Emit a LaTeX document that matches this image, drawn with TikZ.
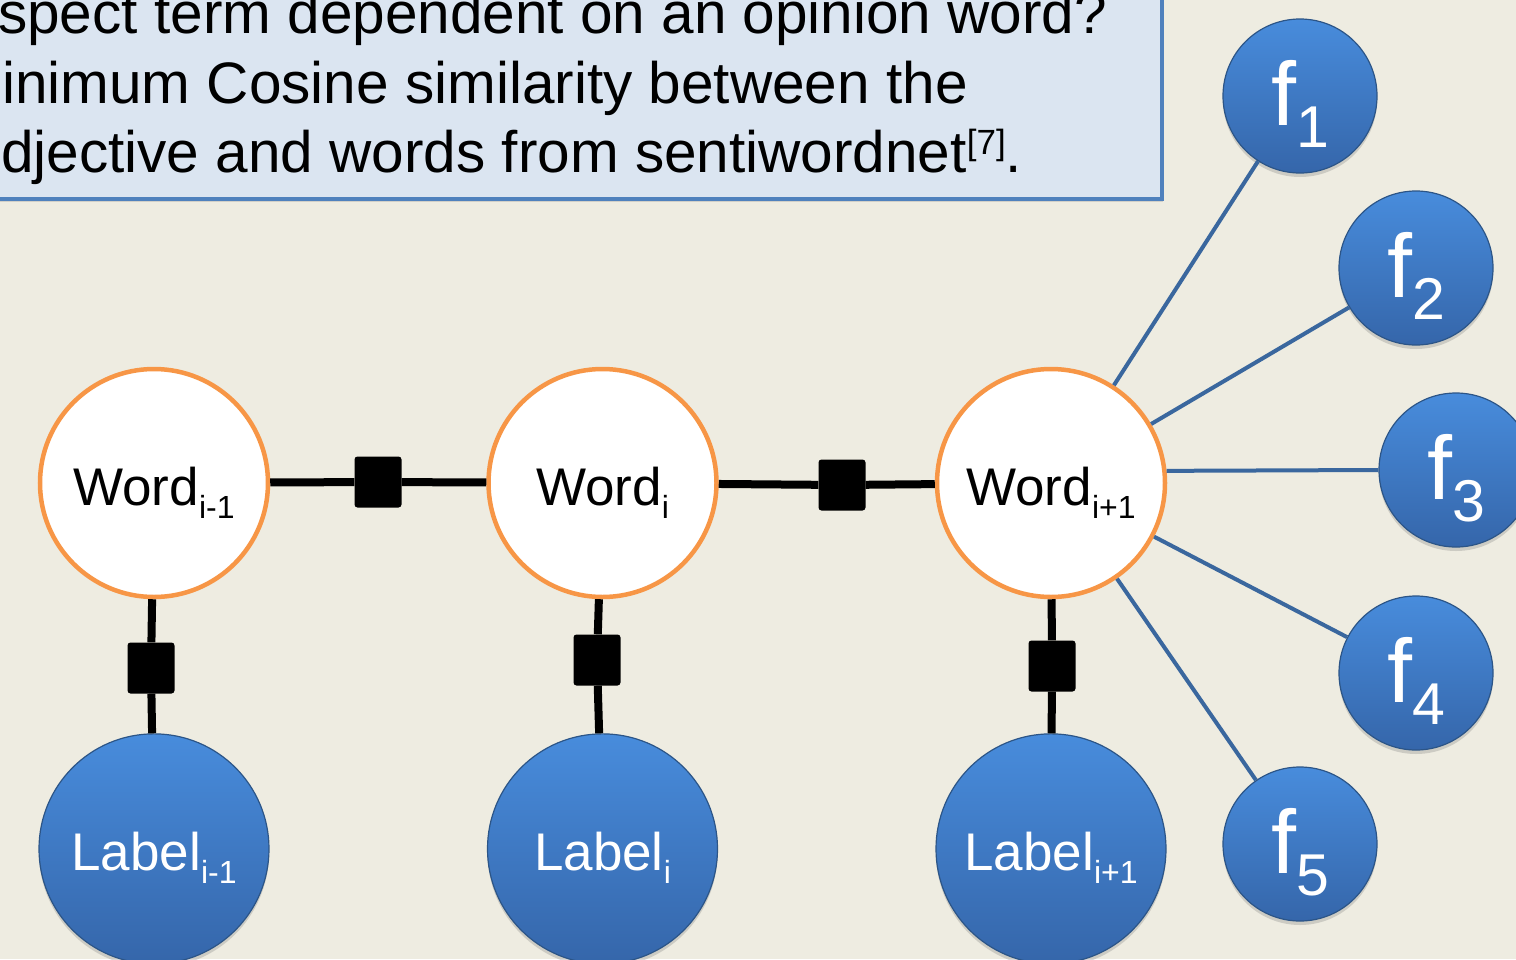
\documentclass[tikz,border=0pt]{standalone}
\usepackage{fontspec}
\setmainfont{Liberation Sans}
\usetikzlibrary{positioning,shadows}

\definecolor{bgcream}{HTML}{EEECE1}
\definecolor{boxfill}{HTML}{DBE5F1}
\definecolor{boxline}{HTML}{4F81BD}
\definecolor{wordline}{HTML}{F79646}
\definecolor{bluetop}{HTML}{488CDC}
\definecolor{bluebot}{HTML}{3566AA}
\definecolor{blueedge}{HTML}{2C5587}
\definecolor{featline}{HTML}{3A679E}

\newcommand{\wsub}[1]{\raisebox{-13pt}{\fontsize{32}{32}\selectfont #1}}
\newcommand{\fsub}[1]{\raisebox{-22pt}{\fontsize{59}{59}\selectfont #1}}
\newcommand{\refmark}[1]{\raisebox{18pt}{\fontsize{35}{35}\selectfont [#1]}}

\tikzset{
  wordnode/.style={circle, draw=wordline, line width=4.5pt, fill=white,
    minimum size=228pt, inner sep=0pt, font=\fontsize{53}{53}\selectfont,
    text height=44pt, text depth=0pt},
  labelnode/.style={circle, draw=blueedge, line width=1.2pt,
    top color=bluetop, bottom color=bluebot, text=white,
    minimum size=230pt, inner sep=0pt, font=\fontsize{53}{53}\selectfont,
    text height=44pt, text depth=0pt,
    drop shadow={shadow xshift=0pt, shadow yshift=-4pt, opacity=0.3}},
  featnode/.style={labelnode, minimum size=154pt,
    font=\fontsize{90}{90}\selectfont, text height=58pt},
  factor/.style={rectangle, fill=black, rounded corners=3pt,
    minimum width=47pt, minimum height=51pt, inner sep=0pt},
  qtext/.style={anchor=base west, inner sep=0pt,
    font=\fontsize{58.5}{70}\selectfont},
  link/.style={line width=8pt, black},
  featlink/.style={line width=4pt, featline}
}

\begin{document}
\begin{tikzpicture}[x=1pt, y=-1pt]
    \useasboundingbox (0,0) rectangle (1516,959);
    \clip (0,0) rectangle (1516,959);
    \fill[bgcream] (0,0) rectangle (1516,959);

    % question box, cut by the top left corner
    \draw[boxline, line width=4pt, fill=boxfill,
      drop shadow={shadow xshift=1pt, shadow yshift=-3pt, opacity=0.25}]
      (-20,-20) rectangle (1162,199);
    \node[qtext] (q1) at (-2,33) {spect term dependent on an opinion word?};
    \node[qtext] (q2) at (2,103) {inimum Cosine similarity between the};
    \node[qtext] (q3) at (1,172) {djective and words from sentiwordnet\refmark{7}.};

    % words
    \node[wordnode] (w1) at (154,483) {Word\wsub{i-1}};
    \node[wordnode, right=216pt of w1] (w2) {Word\wsub{i}};
    \node[wordnode, right=216pt of w2] (w3) {Word\wsub{i+1}};

    % labels
    \node[labelnode, below=134pt of w1] (l1) {Label\wsub{i-1}};
    \node[labelnode, below=134pt of w2] (l2) {Label\wsub{i}};
    \node[labelnode, below=134pt of w3] (l3) {Label\wsub{i+1}};

    % features of the last word
    \node[featnode] (f1) at (1300,96) {f\fsub{1}};
    \node[featnode] (f2) at (1416,268) {f\fsub{2}};
    \node[featnode] (f3) at (1456,470) {f\fsub{3}};
    \node[featnode] (f4) at (1416,673) {f\fsub{4}};
    \node[featnode] (f5) at (1300,844) {f\fsub{5}};

    % factors
    \node[factor] (fa) at (378,482) {};
    \node[factor] (fb) at (842,485) {};
    \node[factor] (v1) at (151,668) {};
    \node[factor] (v2) at (597,660) {};
    \node[factor] (v3) at (1052,666) {};

    \draw[link] (w1) -- (fa);
    \draw[link] (fa) -- (w2);
    \draw[link] (w2) -- (fb);
    \draw[link] (fb) -- (w3);
    \draw[link] (w1) -- (v1) -- (l1);
    \draw[link] (w2) -- (v2) -- (l2);
    \draw[link] (w3) -- (v3) -- (l3);

    \draw[featlink] (w3) -- (f1);
    \draw[featlink] (w3) -- (f2);
    \draw[featlink] (w3.6) -- (f3.west);
    \draw[featlink] (w3) -- (f4);
    \draw[featlink] (w3) -- (f5);
\end{tikzpicture}
\end{document}
